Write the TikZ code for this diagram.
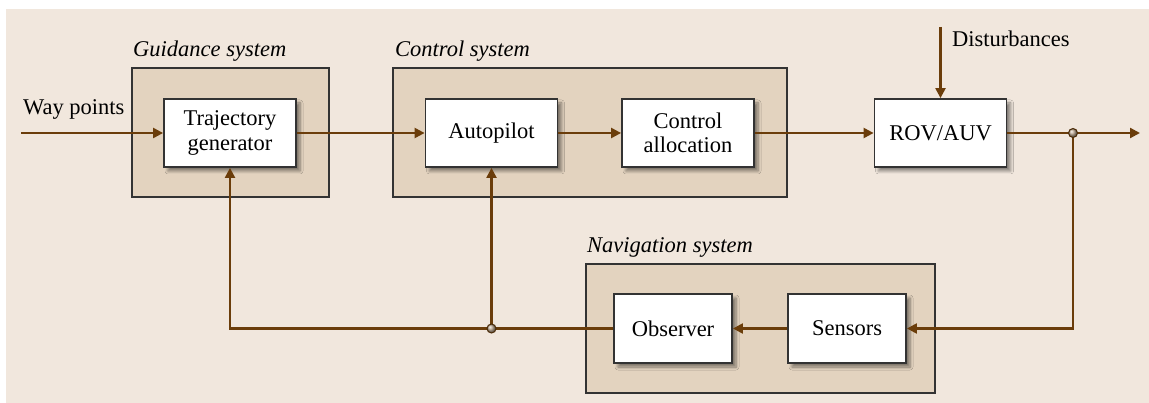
\documentclass[tikz,border=0pt]{standalone}
\usepackage{fontspec}
\setmainfont{Liberation Serif}
\usetikzlibrary{arrows.meta,shadows.blur}
\definecolor{bgc}{HTML}{F1E7DD}
\definecolor{sysc}{HTML}{E3D3BF}
\definecolor{linec}{HTML}{6B3D0A}
\definecolor{edgec}{HTML}{333333}
\begin{document}
\begin{tikzpicture}[x=1pt,y=-1pt,
  font=\fontsize{22.5}{24.5}\selectfont,
  sysbox/.style={draw=edgec,line width=1.8pt,fill=sysc},
  blk/.style={draw=edgec,line width=1.8pt,fill=white,minimum width=132pt,minimum height=68pt,align=center,inner sep=0pt,
    blur shadow={shadow xshift=4pt,shadow yshift=-4pt,shadow blur steps=6,shadow blur radius=3pt,shadow opacity=45}},
  sblk/.style={blk,minimum width=118pt,minimum height=69pt},
  conn/.style={draw=linec,line width=2.2pt},
  arr/.style={conn,-{Triangle[length=10pt,width=10pt]}},
  dot/.style={circle,draw=linec!70!black,line width=1pt,inner sep=0pt,minimum size=9pt,ball color=linec!45!white},
  lab/.style={anchor=base west,inner sep=0pt},
  slab/.style={lab,font=\fontsize{22.5}{24.5}\selectfont\itshape}]
\useasboundingbox (0,0) rectangle (1149,403);
\fill[white] (0,0) rectangle (1149,403);
\fill[bgc] (6,9) rectangle (1149,403);
% system boxes
\draw[sysbox] (132,68) rectangle (329,197);
\draw[sysbox] (393,68) rectangle (787,197);
\draw[sysbox] (586,264) rectangle (935,393);
\node[slab] (lguid) at (133,57) {Guidance system};
\node[slab] (lctrl) at (395,57) {Control system};
\node[slab] (lnav) at (587,253) {Navigation system};
% blocks
\node[blk] (traj) at (230,133) {Trajectory\\generator};
\node[blk] (auto) at (491.5,133) {Autopilot};
\node[blk] (alloc) at (688,133) {Control\\allocation};
\node[blk] (rov) at (940.5,133) {ROV/AUV};
\node[sblk] (obs) at (673,328.5) {Observer};
\node[sblk] (sens) at (847,328.5) {Sensors};
% labels
\node[lab] (lway) at (23,115) {Way points};
\node[lab] (ldist) at (952,47) {Disturbances};
% coordinates
\coordinate (win) at (21,133);
\coordinate (dtop) at (940.5,27);
\coordinate (out) at (1140,133);
\coordinate (jout) at (1073,133);
\coordinate (jobs) at (491.5,328.5);
\coordinate (fbl) at (230,328.5);
% connectors
\draw[arr] (win) -- (traj.west);
\draw[arr] (traj.east) -- (auto.west);
\draw[arr] (auto.east) -- (alloc.west);
\draw[arr] (alloc.east) -- (rov.west);
\draw[arr] (dtop) -- (rov.north);
\draw[arr] (rov.east) -- (out);
\draw[arr] (jout) |- (sens.east);
\draw[arr] (sens.west) -- (obs.east);
\draw[arr] (obs.west) -- (fbl) -- (traj.south);
\draw[arr] (jobs) -- (auto.south);
\node[dot] (d1) at (jout) {};
\node[dot] (d2) at (jobs) {};
\end{tikzpicture}
\end{document}
